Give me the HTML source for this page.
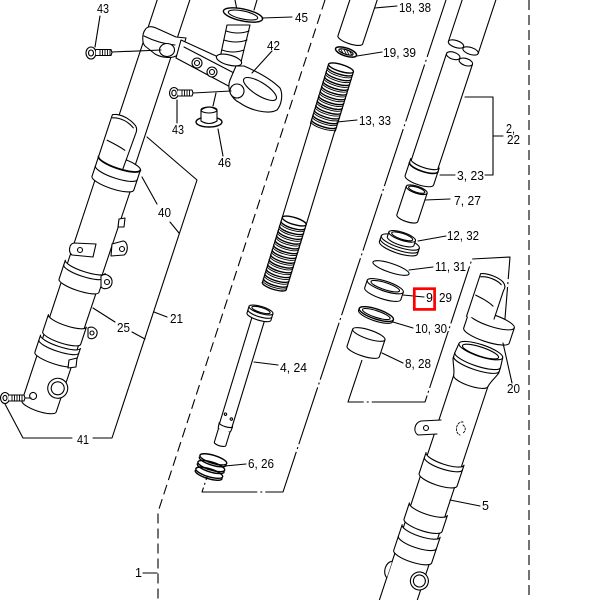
<!DOCTYPE html>
<html><head><meta charset="utf-8"><style>
html,body{margin:0;padding:0;background:#fff;}
svg{display:block;}
text{font-family:"Liberation Sans",Arial,sans-serif;font-size:12.5px;fill:#000;stroke:none;}
</style></head><body>
<svg width="600" height="600" viewBox="0 0 600 600" xmlns="http://www.w3.org/2000/svg">
<rect width="600" height="600" fill="#fff"/>
<g fill="none" stroke="#000" stroke-width="1.1" stroke-linejoin="round" stroke-linecap="round">

<!-- long background lines -->
<path d="M325,0 L158,512 L158,600" stroke-dasharray="10,5" stroke-linecap="butt"/>
<path d="M529,0 L529,600" stroke-dasharray="10,5" stroke-linecap="butt"/>
<path d="M446,0 L283,492 L202,492 L207,477" stroke-dasharray="60,3,2,3" stroke-linecap="butt"/>
<path d="M362,360 L348,402 L425,402 L472,259 L510,257 L503,343" stroke-dasharray="60,3,2,3" stroke-linecap="butt"/>

<!-- LEFT FORK -->
<g transform="translate(173.5,0) rotate(18.3)">
 <path d="M-15.5,-5 L-15.5,128 M15.5,-5 L15.5,174"/>
 <path fill="#fff" d="M-18,192 L-18,428 A18,5 0 0 0 18,428 L19,192 Z"/>
 <path fill="#fff" d="M-22,172 L-22,193 A22,5.5 0 0 0 22,193 L22,172 A22,5.5 0 0 0 -22,172 Z"/>
 <path d="M-22,172 A22,5.5 0 0 0 22,172" stroke-width="1.8"/>
 <path d="M-22,182 A22,5.5 0 0 0 22,182"/>
 <path fill="#fff" stroke="none" d="M-22,128 C-14,124 -3,127 3,131 C6,133 6.5,136 6,140 L5,176 L-22,172 Z"/>
 <path d="M-22,172 L-22,128 C-14,124 -3,127 3,131 C6,133 6.5,136 6,140 L5,176"/>
 <path d="M-21,131 C-13,128 -4,130 2,134"/>
 <path d="M-19,154 C-12,155 -5,156 1,158"/>
 <path fill="#fff" d="M-21,281 A21,5 0 0 0 21,281 L21,301 A21,5 0 0 1 -21,301 Z"/>
 <path d="M-21,286 A21,5 0 0 0 21,286"/>
 <path fill="#fff" d="M-20,338 A20,5 0 0 0 20,338 L20,356 A20,5 0 0 1 -20,356 Z"/>
 <path fill="#fff" d="M-21,360 A21,5 0 0 0 21,360 L21,378 A21,5 0 0 1 -21,378 Z"/>
 <path d="M-21,365 A21,5 0 0 0 21,365"/>
 <circle cx="12" cy="405" r="10" fill="#fff"/>
 <circle cx="12" cy="405" r="6.5"/>
 <circle cx="-9" cy="420" r="3.5"/>
</g>
<!-- left leg lugs -->
<path fill="#fff" d="M74,243 C69,244 68,252 72,255 L93,257 L96,244 Z"/>
<circle cx="80" cy="250" r="2.5"/>
<path fill="#fff" d="M112,244 L123,241 C128,241 129,252 124,255 L111,256 Z"/>
<circle cx="122" cy="249" r="2.5"/>
<path fill="#fff" d="M101,276 C106,272 113,277 112,283 C111,289 104,290 101,287 Z"/>
<circle cx="107" cy="282" r="2.5"/>
<path fill="#fff" d="M88,328 C93,325 98,330 97,334 C96,339 90,340 88,337 Z"/>
<circle cx="92" cy="333" r="2"/>
<path fill="#fff" d="M119,219 L125,218 L124,227 L118,227 Z"/>
<path fill="#fff" d="M69,360 L77,358 L76,367 L68,368 Z"/>

<!-- TOP CLAMP -->
<path d="M235,0 L237,10 M257,0 L254,10"/>
<path fill="#fff" d="M227,25 L250,25 L241,62 L220,58 Z"/>
<path d="M226,31 Q238,35 249,31 M224,40 Q236,44 247,40 M222,50 Q233,54 244,50"/>
<path fill="#fff" d="M145,30 C147,26 152,26 156,28 L176,37 L186,38 L183,48 L176,56 C170,59 160,57 155,54 L145,46 C142,43 142,34 145,30 Z"/>
<path d="M144,36 C152,40 163,44 175,45"/>
<ellipse cx="167" cy="50" rx="7.5" ry="6.5" fill="#fff"/>
<path fill="#fff" d="M181,40 L238,66 L236,90 L176,58 Z"/>
<path d="M184,47 L234,73"/>
<ellipse cx="229" cy="60" rx="13" ry="5" transform="rotate(15 229 60)" fill="#fff"/>
<circle cx="197" cy="63" r="5" fill="#fff"/><circle cx="197" cy="63" r="2.5"/>
<circle cx="212" cy="72" r="5" fill="#fff"/><circle cx="212" cy="72" r="2.5"/>
<path fill="#fff" d="M236,66 L244,66 C258,72 272,80 280,88 C283,94 282,104 277,110 C268,115 250,110 240,103 C230,98 227,88 230,80 Z"/>
<ellipse cx="260" cy="89" rx="19" ry="6.5" transform="rotate(32 260 89)"/>
<ellipse cx="237" cy="91" rx="7" ry="7" fill="#fff"/>
<ellipse cx="243" cy="15" rx="20" ry="6" transform="rotate(12 243 15)" fill="#fff" stroke-width="1.4"/>
<ellipse cx="243" cy="15" rx="15" ry="4" transform="rotate(12 243 15)"/>
<!-- nut 46 -->
<path d="M213,106 L216,93"/>
<ellipse cx="209" cy="122" rx="13" ry="5" fill="#fff" stroke-width="1.4"/>
<path fill="#fff" d="M201,110 L201,121 Q209,126 217,121 L217,110 Q209,104 201,110 Z"/>
<ellipse cx="209" cy="110" rx="8" ry="3"/>
<!-- bolts -->
<ellipse cx="91" cy="53" rx="5" ry="6" fill="#fff"/><ellipse cx="91" cy="53" rx="2.5" ry="3"/>
<path fill="#fff" d="M96,49.5 L111,49.5 L112,52.5 L111,55.5 L96,55.5"/>
<path d="M100,49.5 L100,55.5 M102.5,49.5 L102.5,55.5 M105,49.5 L105,55.5 M107.5,49.5 L107.5,55.5 M110,49.5 L110,55.5" stroke-width="0.9"/>
<ellipse cx="174" cy="93" rx="4.5" ry="5.5" fill="#fff"/><ellipse cx="174" cy="93" rx="2.2" ry="2.8"/>
<path fill="#fff" d="M178,90 L192,90 L193,93 L192,96 L178,96"/>
<path d="M182,90 L182,96 M184.5,90 L184.5,96 M187,90 L187,96 M189.5,90 L189.5,96" stroke-width="0.9"/>
<ellipse cx="5" cy="398" rx="4.5" ry="5.5" fill="#fff"/><ellipse cx="5" cy="398" rx="2" ry="2.6"/>
<path fill="#fff" d="M9,395 L24,395 L25,398 L24,401 L9,401"/>
<path d="M12,395 L12,401 M14.5,395 L14.5,401 M17,395 L17,401 M19.5,395 L19.5,401 M22,395 L22,401" stroke-width="0.9"/>

<!-- 18,38 tube -->
<g transform="translate(363.5,0) rotate(18.3)">
 <path fill="#fff" d="M-13,-8 L-13,42 A13,4 0 0 0 13,42 L13,-8"/>
</g>
<!-- 19,39 -->
<g transform="translate(346,52) rotate(18.3)">
 <ellipse rx="11" ry="4" fill="#fff" stroke-width="1.5"/>
 <ellipse rx="7.5" ry="2.3"/>
 <path d="M-6,-1 L-3,1.5 M-3,-2 L1,2 M0,-2 L4,2 M3,-2 L7,1.5" stroke-width="0.8"/>
</g>

<!-- SPRING 13,33 -->
<g transform="translate(341,68) rotate(17)">
 <path d="M-13,0 L-13,62 M13,0 L13,62 M-12.5,62 L-12.5,162 M12.5,62 L12.5,162 M-12.5,160 L-12.5,228 M12.5,160 L12.5,228"/>
 <ellipse cx="0" cy="0" rx="13" ry="3.5" stroke-width="1.4"/>
 <path stroke-width="1.4" d="M-13,3 A13,3.5 0 0 0 13,3 M-13,8 A13,3.5 0 0 0 13,8 M-13,13 A13,3.5 0 0 0 13,13 M-13,18 A13,3.5 0 0 0 13,18 M-13,23 A13,3.5 0 0 0 13,23 M-13,28 A13,3.5 0 0 0 13,28 M-13,33 A13,3.5 0 0 0 13,33 M-13,38 A13,3.5 0 0 0 13,38 M-13,43 A13,3.5 0 0 0 13,43 M-13,48 A13,3.5 0 0 0 13,48 M-13,53 A13,3.5 0 0 0 13,53 M-13,58 A13,3.5 0 0 0 13,58"/>
 <path stroke-width="0.9" d="M-13,5 A13,3.5 0 0 0 13,5 M-13,10 A13,3.5 0 0 0 13,10 M-13,15 A13,3.5 0 0 0 13,15 M-13,20 A13,3.5 0 0 0 13,20 M-13,25 A13,3.5 0 0 0 13,25 M-13,30 A13,3.5 0 0 0 13,30 M-13,35 A13,3.5 0 0 0 13,35 M-13,40 A13,3.5 0 0 0 13,40 M-13,45 A13,3.5 0 0 0 13,45 M-13,50 A13,3.5 0 0 0 13,50 M-13,55 A13,3.5 0 0 0 13,55 M-13,60 A13,3.5 0 0 0 13,60"/>
 <ellipse cx="0" cy="160" rx="12.5" ry="3.5" stroke-width="1.4"/>
 <path stroke-width="1.4" d="M-12.5,164 A12.5,3.5 0 0 0 12.5,164 M-12.5,169 A12.5,3.5 0 0 0 12.5,169 M-12.5,174 A12.5,3.5 0 0 0 12.5,174 M-12.5,179 A12.5,3.5 0 0 0 12.5,179 M-12.5,184 A12.5,3.5 0 0 0 12.5,184 M-12.5,189 A12.5,3.5 0 0 0 12.5,189 M-12.5,194 A12.5,3.5 0 0 0 12.5,194 M-12.5,199 A12.5,3.5 0 0 0 12.5,199 M-12.5,204 A12.5,3.5 0 0 0 12.5,204 M-12.5,209 A12.5,3.5 0 0 0 12.5,209 M-12.5,214 A12.5,3.5 0 0 0 12.5,214 M-12.5,219 A12.5,3.5 0 0 0 12.5,219 M-12.5,224 A12.5,3.5 0 0 0 12.5,224 M-12.5,228 A12.5,3.5 0 0 0 12.5,228"/>
 <path stroke-width="0.9" d="M-12.5,166 A12.5,3.5 0 0 0 12.5,166 M-12.5,171 A12.5,3.5 0 0 0 12.5,171 M-12.5,176 A12.5,3.5 0 0 0 12.5,176 M-12.5,181 A12.5,3.5 0 0 0 12.5,181 M-12.5,186 A12.5,3.5 0 0 0 12.5,186 M-12.5,191 A12.5,3.5 0 0 0 12.5,191 M-12.5,196 A12.5,3.5 0 0 0 12.5,196 M-12.5,201 A12.5,3.5 0 0 0 12.5,201 M-12.5,206 A12.5,3.5 0 0 0 12.5,206 M-12.5,211 A12.5,3.5 0 0 0 12.5,211 M-12.5,216 A12.5,3.5 0 0 0 12.5,216 M-12.5,221 A12.5,3.5 0 0 0 12.5,221 M-12.5,226 A12.5,3.5 0 0 0 12.5,226"/>
</g>

<!-- DAMPER ROD 4,24 -->
<g transform="translate(261,310) rotate(17)">
 <path fill="#fff" stroke="none" d="M-6.5,8 L-6.5,125 L6.5,125 L6.5,8 Z"/>
 <path d="M-6.5,8 L-6.5,122 M6.5,8 L6.5,122"/>
 <path fill="#fff" d="M-7,120 A7,2 0 0 0 7,120 L6.5,125 A6.5,2 0 0 1 -6.5,125 Z"/>
 <path fill="#fff" d="M-6,126 L-6,140 A6,2 0 0 0 6,140 L6,126"/>
 <circle cx="-3.5" cy="110" r="1.2"/><circle cx="3.5" cy="113" r="1.2"/>
 <path fill="#fff" d="M-12.5,0 L-12.5,7 A12.5,3.5 0 0 0 12.5,7 L12.5,0 A12.5,3.5 0 0 0 -12.5,0 Z"/>
 <path d="M-12.5,0 A12.5,3.5 0 0 0 12.5,0 M-12.5,3.5 A12.5,3.5 0 0 0 12.5,3.5"/>
 <ellipse cx="0" cy="0" rx="9.5" ry="2.5"/>
</g>

<!-- 6,26 -->
<g transform="translate(211,467) rotate(17)" stroke-width="1.4">
 <ellipse cx="0" cy="-8" rx="14" ry="4"/>
 <path d="M-14,-6 A14,4 0 0 0 14,-6"/>
 <ellipse cx="0" cy="-1" rx="14" ry="4"/>
 <path d="M-14,1 A14,4 0 0 0 14,1"/>
 <ellipse cx="0" cy="6" rx="14" ry="4"/>
 <path d="M-14,8 A14,4 0 0 0 14,8"/>
</g>

<!-- RIGHT INNER TUBE -->
<g transform="translate(479,0) rotate(18.3)">
 <path fill="#fff" stroke="none" d="M-16,-8 L16,-8 L16,50 L-16,50 Z"/>
 <path d="M-16,-8 L-16,49 M16,-8 L16,51"/>
 <ellipse cx="-8" cy="49" rx="8" ry="3.5" fill="#fff"/>
 <ellipse cx="8" cy="51" rx="8" ry="3.5" fill="#fff"/>
 <path fill="#fff" stroke="none" d="M-14,62 L14,62 L14,180 L-14,180 Z"/>
 <path d="M-14,61 L-14,174 M14,63 L14,174"/>
 <ellipse cx="-7" cy="61" rx="7" ry="3.5" fill="#fff"/>
 <ellipse cx="7" cy="63" rx="7" ry="3.5" fill="#fff"/>
 <path fill="#fff" d="M-15,172 A15,4.5 0 0 0 15,172 L15,190 A15,4.5 0 0 1 -15,190 Z"/>
 <path d="M-15,176 A15,4.5 0 0 0 15,176" stroke-width="1.6"/>
</g>

<!-- 7,27 -->
<g transform="translate(412,204) rotate(18.3)">
 <path fill="#fff" d="M-11,-15 L-11,15 A11,3.5 0 0 0 11,15 L11,-15 A11,3.5 0 0 0 -11,-15 Z"/>
 <path d="M-11,-15 A11,3.5 0 0 0 11,-15"/>
 <ellipse cx="0" cy="-15" rx="8.5" ry="2.5"/>
</g>
<!-- 12,32 -->
<g transform="translate(400,243) rotate(18.3)">
 <path fill="#fff" d="M-20,-1 L-20,5 A20,5.5 0 0 0 20,5 L20,-1 A20,5.5 0 0 0 -20,-1 Z"/>
 <path d="M-20,-1 A20,5.5 0 0 0 20,-1 M-20,2 A20,5.5 0 0 0 20,2"/>
 <path fill="#fff" d="M-14,-7 L-14,-2 A14,4 0 0 0 14,-2 L14,-7 A14,4 0 0 0 -14,-7 Z"/>
 <path d="M-14,-7 A14,4 0 0 0 14,-7"/>
 <ellipse cx="0" cy="-7" rx="11" ry="3"/>
</g>
<!-- 11,31 -->
<ellipse transform="translate(391,268) rotate(18.3)" rx="19" ry="4.5" fill="#fff"/>
<!-- 9,29 -->
<g transform="translate(384,290) rotate(18.3)">
 <path fill="#fff" d="M-19,-4 L-19,4 A19,5 0 0 0 19,4 L19,-4 A19,5 0 0 0 -19,-4 Z"/>
 <path d="M-19,-4 A19,5 0 0 0 19,-4"/>
 <ellipse cx="0" cy="-4" rx="15" ry="3.5"/>
</g>
<!-- 10,30 -->
<g transform="translate(376,315) rotate(18.3)">
 <ellipse cx="0" cy="-1" rx="18" ry="5" fill="#fff" stroke-width="1.4"/>
 <path d="M-18,-1 L-18,1 A18,5 0 0 0 18,1 L18,-1"/>
 <ellipse cx="0" cy="-1" rx="14.5" ry="3.3"/>
</g>
<!-- 8,28 -->
<g transform="translate(366,343) rotate(18.3)">
 <path fill="#fff" d="M-17,-9 L-17,9 A17,4.5 0 0 0 17,9 L17,-9 A17,4.5 0 0 0 -17,-9 Z"/>
 <path d="M-17,-9 A17,4.5 0 0 0 17,-9"/>
</g>

<!-- PART 5 lower leg -->
<g transform="translate(464.5,400) rotate(18.3)">
 <path fill="#fff" stroke="none" d="M-18,-25 L-18,220 L18,220 L18,-25 Z"/>
 <path d="M-18,-22 L-18,220 M18,-22 L18,220"/>
 <path fill="#fff" d="M-23,-52 L-24,-42 L-24,-36 C-22,-30 -19,-26 -18,-20 A18,5 0 0 0 18,-20 C19,-26 22,-30 24,-36 L24,-42 L23,-52 A23,6 0 0 0 -23,-52 Z"/>
 <path d="M-23,-52 A23,6 0 0 0 23,-52 M-24,-42 A24,6 0 0 0 24,-42 M-24,-38 A24,6 0 0 0 24,-38"/>
 <ellipse cx="0" cy="-51" rx="19" ry="4.5"/>
 <path fill="#fff" d="M-20,62 A20,5.5 0 0 0 20,62 L20,84 A20,5.5 0 0 1 -20,84 Z"/>
 <path d="M-20,67 A20,5.5 0 0 0 20,67"/>
 <path fill="#fff" d="M-20,115 A20,5.5 0 0 0 20,115 L20,132 A20,5.5 0 0 1 -20,132 Z"/>
 <path fill="#fff" d="M-20,138 A20,5.5 0 0 0 20,138 L20,165 A20,5.5 0 0 1 -20,165 Z"/>
 <path d="M-20,150 A20,5.5 0 0 0 20,150"/>
 <path fill="#fff" d="M-18,176 C-24,178 -24,190 -18,193"/>
 <circle cx="14" cy="186" r="9" fill="#fff"/>
 <circle cx="14" cy="186" r="6"/>
</g>
<path fill="#fff" d="M441,420 L421,421 C414,423 413,432 418,435 L437,434"/>
<circle cx="426" cy="428" r="2.5"/>
<path d="M463,422 C456,421 454,433 460,435 M463,425 C466,427 466,431 463,433" stroke-dasharray="2,1.5" stroke-width="0.9"/>

<!-- PART 20 guard -->
<g transform="translate(489,328) rotate(18.3)">
 <path fill="#fff" d="M-24,-8 L-24,8 A24,6 0 0 0 24,8 L24,-8 A24,6 0 0 0 -24,-8 Z"/>
 <path d="M-24,-8 A24,6 0 0 0 24,-8"/>
 <path fill="#fff" stroke="none" d="M-25,-49 C-18,-52 -6,-51 -1,-48 C2,-46 3,-43 2,-40 L2,-8 L-25,-4 Z"/>
 <path d="M-25,-4 L-25,-49 C-18,-52 -6,-51 -1,-48 C2,-46 3,-43 2,-40 L2,-10"/>
 <path d="M-24,-46 C-17,-49 -7,-48 -2,-45"/>
 <path d="M-23,-27 C-16,-26 -9,-25 -3,-22"/>
</g>

<!-- brackets / leaders (left) -->
<path d="M147,137 L197,180 L112,438 L93,438"/>
<path d="M72,438 L23,438 L5,404"/>
<path d="M142,177 L157,204 M170,222 L179,233"/>
<path d="M154,312 L167,317"/>
<path d="M93,308 L115,322 M132,332 L145,339"/>
<path d="M25,398 L31,398"/>
<path d="M100,16 L95,47"/>
<path d="M112,52 L161,50"/>
<path d="M177,100 L177,123"/>
<path d="M193,93 L231,91"/>
<path d="M272,51 L252,73"/>
<path d="M262,18 L292,17"/>
<path d="M218,129 L223,156"/>

<!-- leaders (right) -->
<path d="M375,8 L397,6"/>
<path d="M357,56 L382,52"/>
<path d="M337,122 L357,120"/>
<path d="M465,97 L493,97 L493,175 L485,175 M493,136 L503,136"/>
<path d="M440,175 L455,175"/>
<path d="M425,200 L450,199"/>
<path d="M418,241 L446,236"/>
<path d="M409,270 L433,267"/>
<path d="M403,295 L424,297"/>
<path d="M393,322 L413,328"/>
<path d="M382,353 L403,363"/>
<path d="M503,343 L512,383"/>
<path d="M450,500 L480,506"/>
<path d="M225,466 L246,464"/>
<path d="M254,362 L278,365"/>
<path d="M143,573 L157,573"/>
</g>

<!-- red highlight -->
<rect x="414.3" y="288.7" width="20.3" height="20.7" fill="none" stroke="#f00" stroke-width="2.7"/>

<!-- labels -->
<text x="97" y="13" textLength="12" lengthAdjust="spacingAndGlyphs">43</text>
<text x="295" y="22" textLength="13" lengthAdjust="spacingAndGlyphs">45</text>
<text x="267" y="50" textLength="13" lengthAdjust="spacingAndGlyphs">42</text>
<text x="399" y="12" textLength="32" lengthAdjust="spacingAndGlyphs">18, 38</text>
<text x="383" y="57" textLength="33" lengthAdjust="spacingAndGlyphs">19, 39</text>
<text x="359" y="125" textLength="32" lengthAdjust="spacingAndGlyphs">13, 33</text>
<text x="506" y="133" textLength="9" lengthAdjust="spacingAndGlyphs">2,</text>
<text x="507" y="144" textLength="13" lengthAdjust="spacingAndGlyphs">22</text>
<text x="457" y="180" textLength="27" lengthAdjust="spacingAndGlyphs">3, 23</text>
<text x="454" y="205" textLength="27" lengthAdjust="spacingAndGlyphs">7, 27</text>
<text x="447" y="240" textLength="32" lengthAdjust="spacingAndGlyphs">12, 32</text>
<text x="435" y="271" textLength="31" lengthAdjust="spacingAndGlyphs">11, 31</text>
<text x="426" y="302">9</text>
<text x="439" y="302" textLength="13" lengthAdjust="spacingAndGlyphs">29</text>
<text x="415" y="333" textLength="32" lengthAdjust="spacingAndGlyphs">10, 30</text>
<text x="405" y="368" textLength="26" lengthAdjust="spacingAndGlyphs">8, 28</text>
<text x="507" y="393" textLength="13" lengthAdjust="spacingAndGlyphs">20</text>
<text x="482" y="510">5</text>
<text x="248" y="468" textLength="26" lengthAdjust="spacingAndGlyphs">6, 26</text>
<text x="135" y="577">1</text>
<text x="280" y="372" textLength="27" lengthAdjust="spacingAndGlyphs">4, 24</text>
<text x="170" y="323" textLength="13" lengthAdjust="spacingAndGlyphs">21</text>
<text x="117" y="332" textLength="13" lengthAdjust="spacingAndGlyphs">25</text>
<text x="77" y="444" textLength="12" lengthAdjust="spacingAndGlyphs">41</text>
<text x="158" y="217" textLength="13" lengthAdjust="spacingAndGlyphs">40</text>
<text x="172" y="134" textLength="12" lengthAdjust="spacingAndGlyphs">43</text>
<text x="218" y="167" textLength="13" lengthAdjust="spacingAndGlyphs">46</text>
</svg>
</body></html>
